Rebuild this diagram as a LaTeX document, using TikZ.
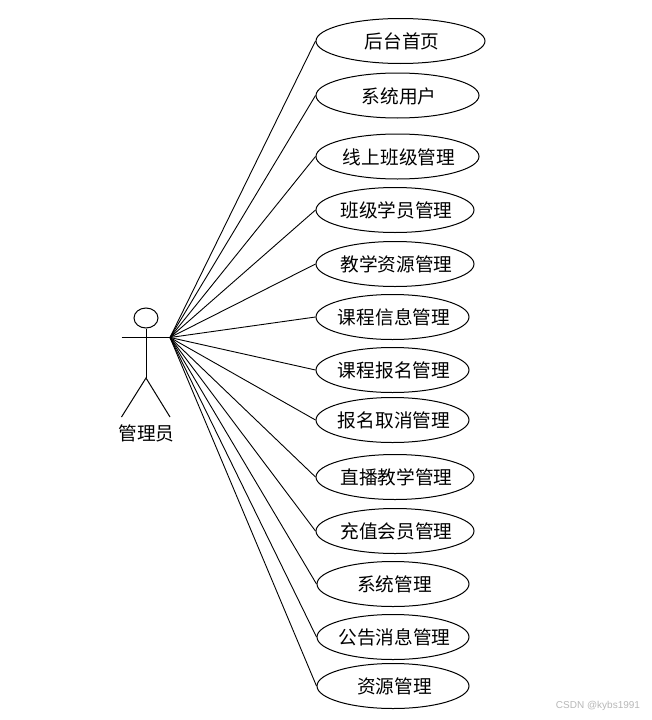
\documentclass[tikz,border=0pt]{standalone}
\usepackage{fontspec}
\setmainfont{Liberation Sans}
\newfontfamily\cjk{Noto Sans CJK SC}
\usetikzlibrary{shapes.geometric}
\newcommand{\uctext}[1]{\makebox[0pt]{\hspace{3pt}\raisebox{-7.6pt}[0pt][0pt]{#1}}}
\tikzset{
  px/.style={x=1pt,y=-1pt},
  usecase/.style={draw=black,line width=1pt,ellipse,inner sep=0pt,minimum height=45pt,font=\cjk\fontsize{18.67}{20}\selectfont,text=black},
  link/.style={draw=black,line width=0.9pt},
  figure/.style={draw=black,line width=1pt},
  mark text/.style={inner sep=0pt,text=black!28,font=\fontsize{10}{12}\selectfont}
}
\begin{document}
\begin{tikzpicture}[px]
\useasboundingbox (0,0) rectangle (652,720);
\fill[white] (0,0) rectangle (652,720);
% use cases
\node[usecase,minimum width=169pt] (u1) at (400.5,41) {\uctext{后台首页}};
\node[usecase,minimum width=163pt] (u2) at (397.5,95.5) {\uctext{系统用户}};
\node[usecase,minimum width=163pt] (u3) at (397.5,156.5) {\uctext{线上班级管理}};
\node[usecase,minimum width=158pt] (u4) at (395,210) {\uctext{班级学员管理}};
\node[usecase,minimum width=158pt] (u5) at (395,264) {\uctext{教学资源管理}};
\node[usecase,minimum width=153pt] (u6) at (392.5,317) {\uctext{课程信息管理}};
\node[usecase,minimum width=153pt] (u7) at (392.5,370) {\uctext{课程报名管理}};
\node[usecase,minimum width=153pt] (u8) at (392.5,420) {\uctext{报名取消管理}};
\node[usecase,minimum width=158pt] (u9) at (395,477) {\uctext{直播教学管理}};
\node[usecase,minimum width=158pt] (u10) at (395,531) {\uctext{充值会员管理}};
\node[usecase,minimum width=152pt] (u11) at (393,584) {\uctext{系统管理}};
\node[usecase,minimum width=152pt] (u12) at (393,637) {\uctext{公告消息管理}};
\node[usecase,minimum width=152pt] (u13) at (393,686) {\uctext{资源管理}};
% actor
\node[figure,ellipse,minimum width=24pt,minimum height=20pt,inner sep=0pt] (head) at (146,318) {};
\coordinate (handL) at (121.5,337.5);
\coordinate (hand) at (170,337.5);
\coordinate (hip) at (146,378);
\coordinate (footL) at (121.5,417);
\coordinate (footR) at (170,417);
\draw[figure] (handL) -- (hand);
\draw[figure] (head.south) -- (hip);
\draw[figure] (footL) -- (hip) -- (footR);
\node[inner sep=0pt,font=\cjk\fontsize{18.67}{20}\selectfont] (actor) at (146.5,433) {管理员};
% connectors
\foreach \n in {1,...,13} \draw[link] (hand) -- (u\n.west);
% watermark
\node[mark text] (wm) at (598,706) {CSDN @kybs1991};
\end{tikzpicture}
\end{document}
